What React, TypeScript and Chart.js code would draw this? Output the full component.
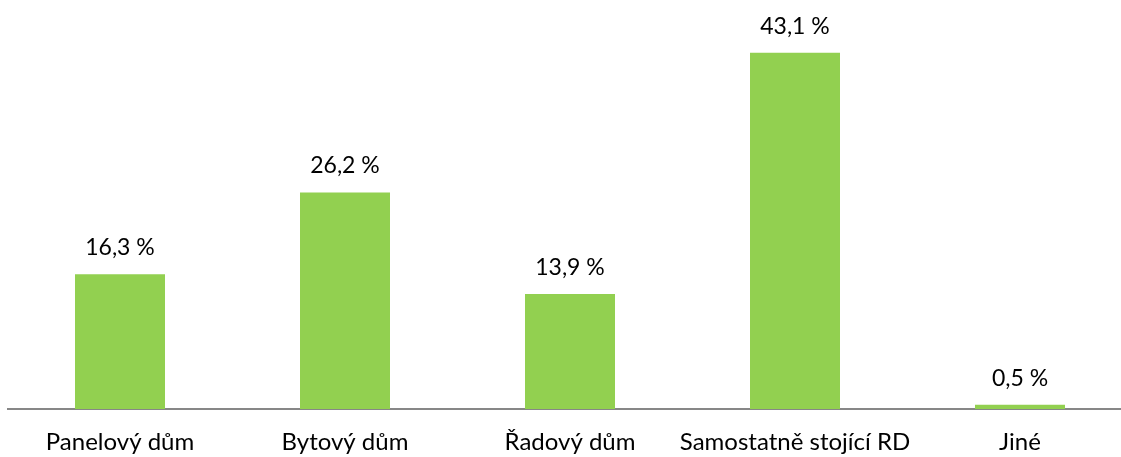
import React, { useEffect, useRef } from "react";
import { Chart, registerables } from "chart.js";

Chart.register(...registerables);

const categories = ["Panelový dům", "Bytový dům", "Řadový dům", "Samostatně stojící RD", "Jiné"];
const values = [16.3, 26.2, 13.9, 43.1, 0.5];
const valueLabels = ["16,3 %", "26,2 %", "13,9 %", "43,1 %", "0,5 %"];

const FONT = "Lato, 'Open Sans', sans-serif";

const labelPlugin = {
  id: "valueLabels",
  afterDatasetsDraw(chart: any) {
    const ctx = chart.ctx;
    const meta = chart.getDatasetMeta(0);
    ctx.save();
    ctx.font = `23px ${FONT}`;
    ctx.fillStyle = "#000000";
    ctx.textAlign = "center";
    ctx.textBaseline = "alphabetic";
    meta.data.forEach((bar: any, i: number) => {
      ctx.fillText(valueLabels[i], bar.x, bar.y - 19);
    });
    ctx.restore();
  },
};

export default function App() {
  const ref = useRef<HTMLCanvasElement | null>(null);
  useEffect(() => {
    if (!ref.current) return;
    const chart = new Chart(ref.current, {
      type: "bar",
      data: {
        labels: categories,
        datasets: [
          {
            data: values,
            backgroundColor: "#92D050",
            barPercentage: 0.4,
            categoryPercentage: 1,
          },
        ],
      },
      options: {
        animation: false,
        responsive: false,
        maintainAspectRatio: false,
        layout: { padding: { top: 37, left: 7.5, right: 0.5, bottom: 0 } },
        plugins: { legend: { display: false }, tooltip: { enabled: false } },
        scales: {
          x: {
            grid: { display: false, drawTicks: false },
            border: { display: true, color: "#878787", width: 2 },
            ticks: { color: "#000000", font: { family: FONT, size: 24 }, padding: 19, maxRotation: 0, autoSkip: false },
            afterFit: (scale: any) => {
              scale.height = 48;
            },
          },
          y: {
            display: false,
            min: 0,
            max: 45,
          },
        },
      },
      plugins: [labelPlugin],
    });
    return () => chart.destroy();
  }, []);
  return (
    <div style={{ position: "absolute", left: 0, top: 0, width: 1121, height: 457, overflow: "hidden", background: "#fff" }}>
      <canvas ref={ref} width={1133} height={457} style={{ display: "block" }} />
    </div>
  );
}
